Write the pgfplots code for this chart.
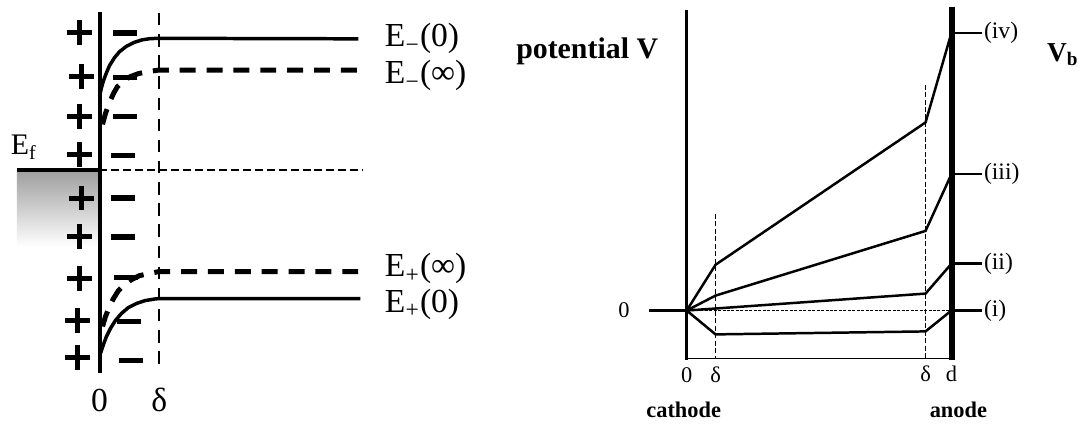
\documentclass[border=0pt]{standalone}
\usepackage{fontspec}
\setmainfont{Liberation Serif}
\usepackage{pgfplots}
\pgfplotsset{compat=1.18}
\begin{document}
\begin{tikzpicture}
\begin{axis}[
  scale only axis, width=434.8pt, height=169.2pt,
  xmin=0, xmax=1087, ymin=0, ymax=423, y dir=reverse,
  hide axis, clip=false]
\path (axis cs:0,0) rectangle (axis cs:1087,423);
% ---------- left panel ----------
\addplot[draw=none, top color=black!38, bottom color=white] coordinates {(17,171) (100,171) (100,248) (17,248) (17,171)};
\addplot[line width=1.6pt] coordinates {(100,12) (100,375)};
\addplot[line width=0.9pt, dash pattern=on 5pt off 3.5pt] coordinates {(160,13) (160,367)};
\addplot[line width=1.6pt] coordinates {(17,171) (100,171)};
\addplot[line width=0.6pt, dash pattern=on 3.2pt off 1.6pt] coordinates {(100,171) (365,171)};
% E-(0)
\addplot[line width=1.4pt] coordinates {(100,97) (102,88) (104,81) (107,73) (110,66) (115,58) (120,52) (127,46.5) (135,42.5) (143,40) (151,38.8) (160,38.5) (360,39)};
% E-(inf)
\addplot[line width=2pt, dash pattern=on 6.4pt off 4.4pt] coordinates {(103,125) (106,114) (110,103) (114,94) (118,87) (124,81) (131,77) (139,74) (148,72) (159,70.5) (362,70.5)};
% E+(inf)
\addplot[line width=2pt, dash pattern=on 6.4pt off 4.4pt] coordinates {(103,328) (106,318) (110,308) (114,300) (119,292) (125,286) (132,281) (140,277) (149,275) (159,273) (363,273)};
% E+(0)
\addplot[line width=1.4pt] coordinates {(101,355) (104,346) (107,338) (111,330) (116,322) (122,315) (129,309) (137,305) (146,302) (155,300.5) (160,300) (362,300)};
% charges
\addplot[only marks, mark=+, mark size=5pt, line width=2pt] coordinates {(80,33) (82,77) (80,117) (80,155) (82,199) (80,238) (80,280) (78,322) (78,359)};
\addplot[only marks, mark=-, mark size=4.8pt, line width=2.2pt] coordinates {(126,33) (126,78) (126,117) (124,156) (124,199) (124,238) (127,279) (130,323) (132,362)};
\node[font=\fontsize{13.5}{14}\selectfont, anchor=west] at (axis cs:378,39) {E\textsubscript{\char"2212}(0)};
\node[font=\fontsize{13.5}{14}\selectfont, anchor=west] at (axis cs:378,76) {E\textsubscript{\char"2212}(∞)};
\node[font=\fontsize{13.5}{14}\selectfont, anchor=west] at (axis cs:378,270) {E\textsubscript{+}(∞)};
\node[font=\fontsize{13.5}{14}\selectfont, anchor=west] at (axis cs:378,306) {E\textsubscript{+}(0)};
\node[font=\fontsize{12}{13}\selectfont] at (axis cs:24,148) {E\textsubscript{f}};
\node[font=\fontsize{13.5}{14}\selectfont] at (axis cs:100,402) {0};
\node[font=\fontsize{13.5}{14}\selectfont] at (axis cs:160,402) {δ};
% ---------- right panel ----------
\addplot[line width=1.4pt] coordinates {(690,10) (690,362)};
\addplot[line width=2.4pt] coordinates {(957,7) (957,362)};
\addplot[line width=1.2pt] coordinates {(652,312) (690,312)};
\addplot[line width=0.5pt, dash pattern=on 1.2pt off 0.6pt] coordinates {(690,312) (956,312)};
\addplot[line width=0.5pt] coordinates {(690,360) (956,360)};
\addplot[line width=0.6pt, dash pattern=on 2pt off 1pt] coordinates {(719,215) (719,360)};
\addplot[line width=0.6pt, dash pattern=on 2pt off 1pt] coordinates {(930,85) (930,360)};
\addplot[line width=1pt] coordinates {(690,312) (719,266) (930,123) (956,33)};
\addplot[line width=1pt] coordinates {(690,312) (719,297) (930,232) (956,175)};
\addplot[line width=1pt] coordinates {(690,312) (719,310) (930,295) (956,265)};
\addplot[line width=1pt] coordinates {(690,312) (719,336) (930,333) (956,312)};
\addplot[line width=1pt] coordinates {(957,33) (987,33)};
\addplot[line width=1pt] coordinates {(957,175) (987,175)};
\addplot[line width=1pt] coordinates {(957,265) (987,265)};
\addplot[line width=1.2pt] coordinates {(957,312) (987,312)};
\node[font=\fontsize{9.5}{10}\selectfont, anchor=west, inner sep=0.5pt] at (axis cs:987,33) {(iv)};
\node[font=\fontsize{9.5}{10}\selectfont, anchor=west, inner sep=0.5pt] at (axis cs:987,175) {(iii)};
\node[font=\fontsize{9.5}{10}\selectfont, anchor=west, inner sep=0.5pt] at (axis cs:987,265) {(ii)};
\node[font=\fontsize{9.5}{10}\selectfont, anchor=west, inner sep=0.5pt] at (axis cs:987,312) {(i)};
\node[font=\fontsize{11}{12}\selectfont\bfseries] at (axis cs:1068,55) {V\textsubscript{b}};
\node[font=\fontsize{12}{13}\selectfont\bfseries] at (axis cs:590,52) {potential V};
\node[font=\fontsize{9}{10}\selectfont] at (axis cs:627,312) {0};
\node[font=\fontsize{9}{10}\selectfont] at (axis cs:690,377) {0};
\node[font=\fontsize{9}{10}\selectfont] at (axis cs:719,377) {δ};
\node[font=\fontsize{9}{10}\selectfont] at (axis cs:930,376) {δ};
\node[font=\fontsize{9}{10}\selectfont] at (axis cs:956,376) {d};
\node[font=\fontsize{9}{10}\selectfont\bfseries] at (axis cs:687,412) {cathode};
\node[font=\fontsize{9}{10}\selectfont\bfseries] at (axis cs:963,412) {anode};
\end{axis}
\end{tikzpicture}
\end{document}
